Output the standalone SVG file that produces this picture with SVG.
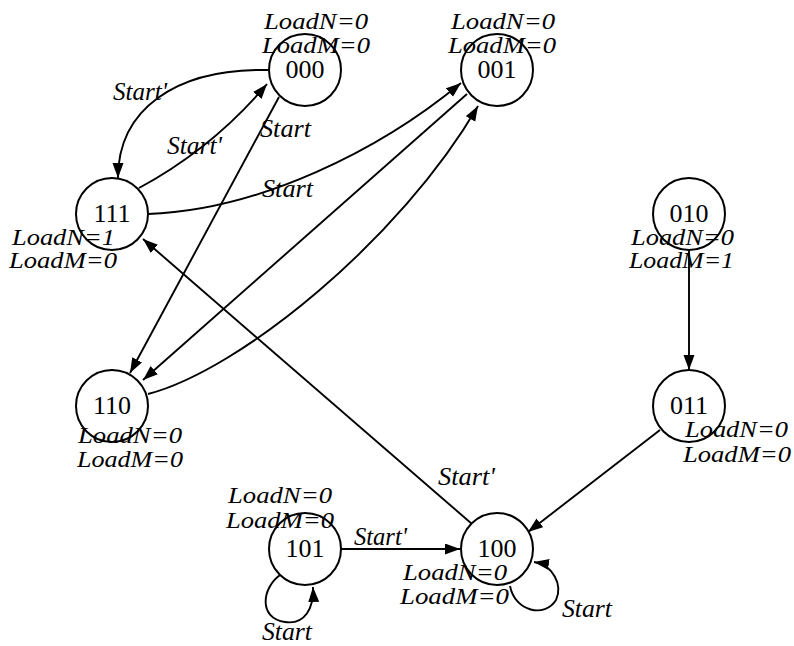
<svg xmlns="http://www.w3.org/2000/svg" width="794" height="646" viewBox="0 0 794 646" font-family="'Liberation Serif', 'Times New Roman', Tinos, 'DejaVu Serif', serif">
<style>
.st{fill:#fff;stroke:#000;stroke-width:2}
.num{font-size:26px;fill:#000;text-anchor:middle}
.lab{font-size:24px;font-style:italic;fill:#000}
.sl{font-size:25px;font-style:italic;fill:#000}
.e{fill:none;stroke:#000;stroke-width:1.9;marker-end:url(#ah)}
</style>
<defs>
<marker id="ah" markerUnits="userSpaceOnUse" markerWidth="16" markerHeight="12" refX="15" refY="5.5" orient="auto">
<path d="M0,0 L15,5.5 L0,11 Z" fill="#000"/>
</marker>
</defs>
<g id="connectors">
<path class="e" d="M268,70 C175,68 118,110 118,178"/>
<path class="e" d="M139,188 Q213,148 267,84"/>
<line class="e" x1="279" y1="97" x2="130" y2="373"/>
<path class="e" d="M148,214 C260,210 380,150 461,83"/>
<line class="e" x1="467" y1="94" x2="143" y2="380"/>
<path class="e" d="M148,394 C240,370 400,240 478,106"/>
<line class="e" x1="472" y1="524" x2="143" y2="239"/>
<line class="e" x1="689" y1="250" x2="689" y2="370"/>
<line class="e" x1="660" y1="430" x2="528" y2="532"/>
<line class="e" x1="341" y1="549" x2="460" y2="549"/>
<path class="e" d="M280,575 C262,588 258,618 285,622 C305,625 314,608 313,587"/>
<path class="e" d="M510,586 C515,612 545,618 556,600 C563,585 553,565 534,562"/>
<text class="sl" x="113" y="100" textLength="54" lengthAdjust="spacingAndGlyphs">Start'</text>
<text class="sl" x="167" y="154" textLength="55" lengthAdjust="spacingAndGlyphs">Start'</text>
<text class="sl" x="260" y="137" textLength="51" lengthAdjust="spacingAndGlyphs">Start</text>
<text class="sl" x="262" y="197" textLength="51" lengthAdjust="spacingAndGlyphs">Start</text>
<text class="sl" x="438" y="485" textLength="57" lengthAdjust="spacingAndGlyphs">Start'</text>
<text class="sl" x="354" y="545" textLength="53" lengthAdjust="spacingAndGlyphs">Start'</text>
<text class="sl" x="262" y="640" textLength="50" lengthAdjust="spacingAndGlyphs">Start</text>
<text class="sl" x="562" y="617" textLength="50" lengthAdjust="spacingAndGlyphs">Start</text>
</g>
<g id="s000">
<circle class="st" cx="305" cy="70" r="36"/>
<text class="num" x="305" y="78">000</text>
<text class="lab" x="264" y="29" textLength="104" lengthAdjust="spacingAndGlyphs">LoadN=0</text>
<text class="lab" x="262" y="53" textLength="108" lengthAdjust="spacingAndGlyphs">LoadM=0</text>
</g>
<g id="s001">
<circle class="st" cx="497" cy="70" r="36"/>
<text class="num" x="497" y="78">001</text>
<text class="lab" x="451" y="29" textLength="104" lengthAdjust="spacingAndGlyphs">LoadN=0</text>
<text class="lab" x="448" y="53" textLength="108" lengthAdjust="spacingAndGlyphs">LoadM=0</text>
</g>
<g id="s111">
<circle class="st" cx="112" cy="214" r="36"/>
<text class="num" x="112" y="222">111</text>
<text class="lab" x="12" y="245" textLength="103" lengthAdjust="spacingAndGlyphs">LoadN=1</text>
<text class="lab" x="9" y="268" textLength="108" lengthAdjust="spacingAndGlyphs">LoadM=0</text>
</g>
<g id="s010">
<circle class="st" cx="689" cy="214" r="36"/>
<text class="num" x="689" y="222">010</text>
<text class="lab" x="631" y="245" textLength="103" lengthAdjust="spacingAndGlyphs">LoadN=0</text>
<text class="lab" x="629" y="268" textLength="105" lengthAdjust="spacingAndGlyphs">LoadM=1</text>
</g>
<g id="s110">
<circle class="st" cx="112" cy="406" r="36"/>
<text class="num" x="112" y="414">110</text>
<text class="lab" x="78" y="443" textLength="104" lengthAdjust="spacingAndGlyphs">LoadN=0</text>
<text class="lab" x="77" y="467" textLength="106" lengthAdjust="spacingAndGlyphs">LoadM=0</text>
</g>
<g id="s011">
<circle class="st" cx="689" cy="406" r="36"/>
<text class="num" x="689" y="414">011</text>
<text class="lab" x="685" y="437" textLength="103" lengthAdjust="spacingAndGlyphs">LoadN=0</text>
<text class="lab" x="683" y="462" textLength="108" lengthAdjust="spacingAndGlyphs">LoadM=0</text>
</g>
<g id="s101">
<circle class="st" cx="305" cy="549" r="36"/>
<text class="num" x="305" y="557">101</text>
<text class="lab" x="228" y="503" textLength="104" lengthAdjust="spacingAndGlyphs">LoadN=0</text>
<text class="lab" x="226" y="528" textLength="108" lengthAdjust="spacingAndGlyphs">LoadM=0</text>
</g>
<g id="s100">
<circle class="st" cx="497" cy="549" r="36"/>
<text class="num" x="497" y="557">100</text>
<text class="lab" x="403" y="580" textLength="104" lengthAdjust="spacingAndGlyphs">LoadN=0</text>
<text class="lab" x="400" y="604" textLength="109" lengthAdjust="spacingAndGlyphs">LoadM=0</text>
</g>
</svg>
